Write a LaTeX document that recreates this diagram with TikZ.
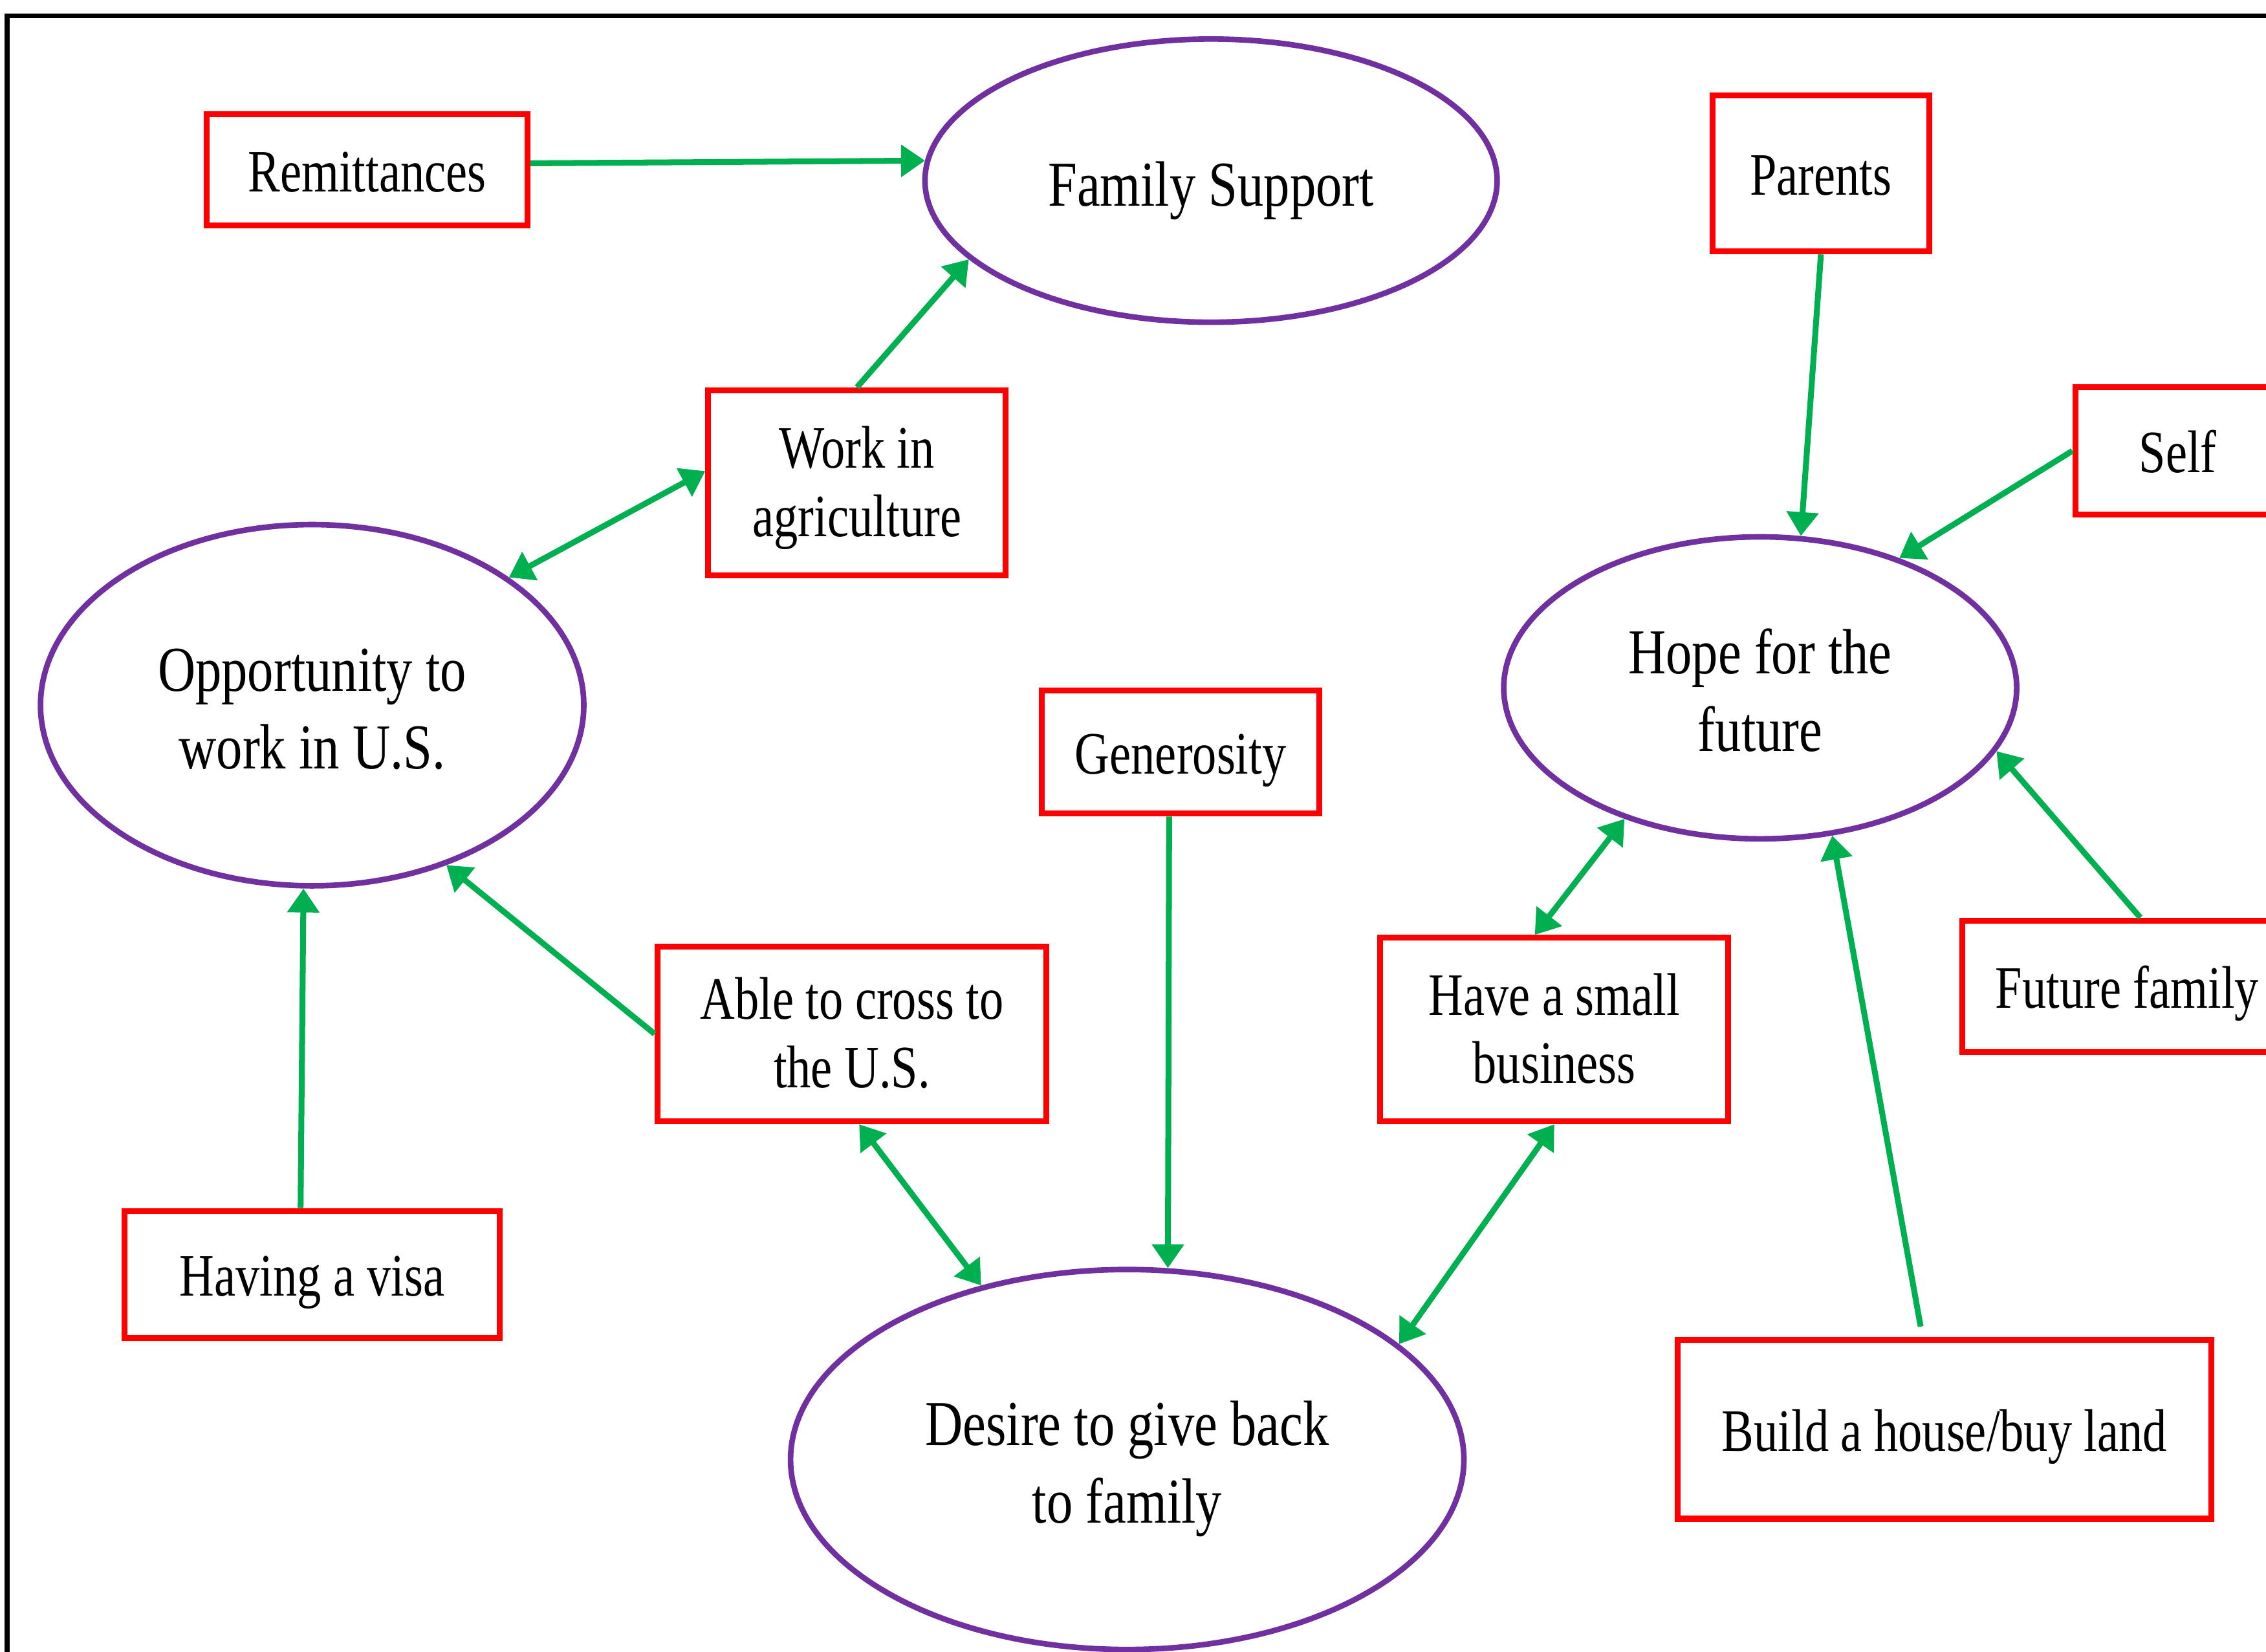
\documentclass[tikz,border=0pt]{standalone}
\usepackage{fontspec}
\setmainfont{Liberation Serif}
\newfontfamily\boxfont{Liberation Serif}[FakeStretch=0.80]
\newfontfamily\ellfont{Liberation Serif}[FakeStretch=0.815]
\usetikzlibrary{shapes.geometric,arrows.meta}
\definecolor{elpurple}{HTML}{7030A0}
\definecolor{boxred}{HTML}{FF0000}
\definecolor{arrgreen}{HTML}{00B050}
\newcommand{\twolines}[2]{\begin{tabular}[b]{@{}c@{}}#1\\#2\end{tabular}}
\begin{document}
\begin{tikzpicture}[x=0.02cm,y=-0.02cm,
  concept/.style={ellipse, draw=elpurple, line width=2.2pt, inner sep=0pt, font=\ellfont\fontsize{25.2}{30.7}\selectfont, text depth=0pt, text height=0.70cm},
  concepttwo/.style={concept, text height=1.76cm},
  factor/.style={rectangle, draw=boxred, line width=2.3pt, inner sep=0pt, font=\boxfont\fontsize{23.7}{27}\selectfont, text depth=0pt, text height=0.60cm},
  factortwo/.style={factor, text height=1.49cm},
  oneway/.style={draw=arrgreen, line width=2.3pt, -{Triangle[length=0.33cm,width=0.43cm]}},
  twoway/.style={draw=arrgreen, line width=2.3pt, {Triangle[length=0.33cm,width=0.43cm]}-{Triangle[length=0.33cm,width=0.43cm]}}
]
\useasboundingbox (0,0) rectangle (1568,1143);
\clip (0,0) rectangle (1568,1143);
\fill[white] (0,0) rectangle (1568,1143);
\draw[line width=1.9pt] (5,11) rectangle (1640,1220);

% concepts
\node[concept, minimum width=7.92cm, minimum height=3.92cm] (fs) at (838,125) {Family Support};
\node[concepttwo, minimum width=7.52cm, minimum height=5.0cm] (opp) at (216,488) {\twolines{Opportunity to}{work in U.S.}};
\node[concepttwo, minimum width=7.1cm, minimum height=4.18cm] (hope) at (1218,476) {\twolines{Hope for the}{future}};
\node[concepttwo, minimum width=9.32cm, minimum height=5.26cm] (desire) at (780,1010) {\twolines{Desire to give back}{to family}};

% factors
\node[factor, minimum width=4.44cm, minimum height=1.54cm] (rem) at (254,117.5) {Remittances};
\node[factortwo, minimum width=4.12cm, minimum height=2.56cm] (work) at (593,334) {\twolines{Work in}{agriculture}};
\node[factor, minimum width=3.0cm, minimum height=2.16cm] (parents) at (1260,120) {Parents};
\node[factor, minimum width=2.84cm, minimum height=1.76cm] (self) at (1507,312) {Self};
\node[factor, minimum width=3.84cm, minimum height=1.70cm] (gen) at (817,520.5) {Generosity};
\node[factor, minimum width=4.56cm, minimum height=1.82cm] (future) at (1472,682.5) {Future family};
\node[factortwo, minimum width=5.38cm, minimum height=2.42cm] (able) at (589.5,715.5) {\twolines{Able to cross to}{the U.S.}};
\node[factortwo, minimum width=4.82cm, minimum height=2.54cm] (small) at (1075.5,712.5) {\twolines{Have a small}{business}};
\node[factor, minimum width=5.2cm, minimum height=1.76cm] (visa) at (216,882) {Having a visa};
\node[factor, minimum width=7.38cm, minimum height=2.48cm] (house) at (1345.5,989) {Build a house/buy land};

% connectors
\draw[oneway] ([yshift=0.09cm]rem.east) -- (fs.176);
\draw[oneway] (work.north) -- (fs.198);
\draw[twoway] ([yshift=0.16cm]work.west) -- (opp.33);
\draw[oneway] ([xshift=-0.16cm]visa.north) -- ([xshift=-0.12cm]opp.south);
\draw[oneway] (able.west) -- (opp.-50);
\draw[twoway] ([xshift=0.1cm]able.south) -- (desire.130);
\draw[oneway] ([xshift=-0.16cm]gen.south) -- (desire.78);
\draw[twoway] (small.south) -- (desire.23);
\draw[twoway] ([xshift=-0.27cm]small.north) -- (hope.224);
\draw[oneway] (parents.south) -- (hope.75);
\draw[oneway] (self.west) -- (hope.43);
\draw[oneway] ([xshift=0.18cm]future.north) -- (hope.-15);
\draw[oneway] ([xshift=-0.33cm,yshift=0.14cm]house.north) -- (hope.-64);
\end{tikzpicture}
\end{document}
